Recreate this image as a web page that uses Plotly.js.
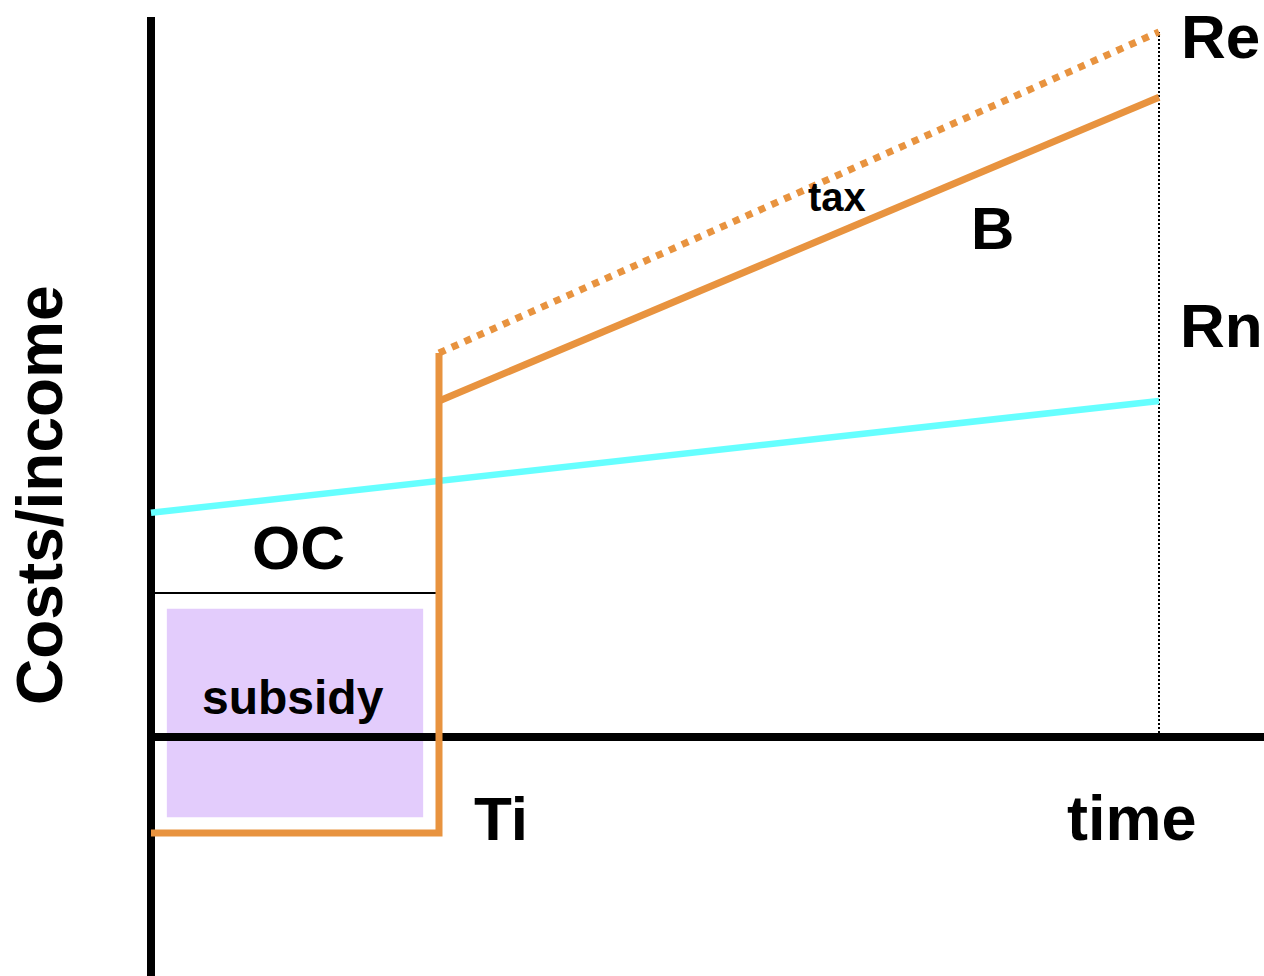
<!DOCTYPE html>
<html>
<head>
<meta charset="utf-8">
<script src="https://cdn.plot.ly/plotly-3.0.1.min.js"></script>
<style>html,body{margin:0;padding:0;background:#fff;}#chart{width:1264px;height:976px;}</style>
</head>
<body>
<div id="chart"></div>
<script>
// Conceptual time points
const timeStart = 0, timeTi = 2, timeEnd = 7;
// Orange investment path (cost before Ti, then income)
const investX = [0, 2, 2];
const investY = [-2, -2, 8];
const benefitX = [2, 7];
const benefitY = [7, 13.33];          // B (after tax)
const grossX = [2, 7];
const grossY = [8, 14.69];            // Re (before tax)
const noInvestX = [0, 7];
const noInvestY = [4.67, 7];          // Rn
const ocX = [0, 2];
const ocY = [3, 3];                   // OC level
const subsidyX = [0.11, 1.89, 1.89, 0.11, 0.11];
const subsidyY = [2.67, 2.67, -1.67, -1.67, 2.67];
const endMarkerX = [7, 7];
const endMarkerY = [0, 14.69];
const yAxisX = [0, 0], yAxisY = [-5.2, 15];
const xAxisX = [0, 8], xAxisY = [0, 0];

const orange = '#E8933F';
const traces = [
  {x: subsidyX, y: subsidyY, mode: 'lines', fill: 'toself', fillcolor: '#E3CCFC', line: {width: 0, color: '#E3CCFC'}},
  {x: yAxisX, y: yAxisY, mode: 'lines', line: {color: '#000', width: 8}},
  {x: xAxisX, y: xAxisY, mode: 'lines', line: {color: '#000', width: 8}},
  {x: ocX, y: ocY, mode: 'lines', line: {color: '#000', width: 2}},
  {x: endMarkerX, y: endMarkerY, mode: 'lines', line: {color: '#000', width: 2, dash: '2px,2px'}},
  {x: noInvestX, y: noInvestY, mode: 'lines', line: {color: '#66FFFF', width: 6.5}},
  {x: grossX, y: grossY, mode: 'lines', line: {color: orange, width: 7, dash: '7px,7px'}},
  {x: benefitX, y: benefitY, mode: 'lines', line: {color: orange, width: 7}},
  {x: investX, y: investY, mode: 'lines', line: {color: orange, width: 7, shape: 'linear'}}
];

const F = 'Arial, "Liberation Sans", sans-serif';
function ann(text, x, y, size, extra) {
  return Object.assign({text: text, x: x, y: y, xref: 'x', yref: 'y', showarrow: false,
    xanchor: 'center', yanchor: 'middle', font: {family: F, size: size, color: '#000', weight: 'bold'}}, extra || {});
}
const annotations = [
  ann('Re', 7.424, 14.60, 62),
  ann('Rn', 7.431, 8.58, 62),
  ann('B', 5.847, 10.60, 60),
  ann('tax', 4.764, 11.25, 40),
  ann('OC', 1.021, 3.94, 62),
  ann('subsidy', 0.986, 0.83, 48),
  ann('Ti', 2.43, -1.69, 62),
  ann('time', 6.81, -1.69, 63),
  ann('Costs/income', -0.771, 5.04, 64, {textangle: -90})
];

const layout = {
  width: 1264, height: 976,
  margin: {l: 0, r: 0, t: 0, b: 0},
  paper_bgcolor: '#fff', plot_bgcolor: '#fff',
  showlegend: false,
  xaxis: {range: [-151/144, (1264-151)/144], visible: false, fixedrange: true},
  yaxis: {range: [-(976-737)/48, 737/48], visible: false, fixedrange: true},
  annotations: annotations
};
Plotly.newPlot('chart', traces, layout, {staticPlot: true, displayModeBar: false});
</script>
</body>
</html>
